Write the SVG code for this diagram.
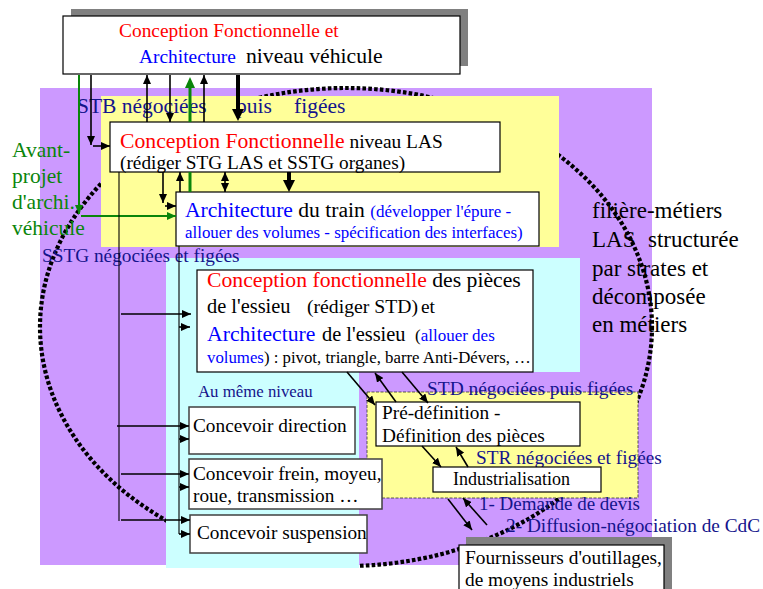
<svg xmlns="http://www.w3.org/2000/svg" width="763" height="589" viewBox="0 0 763 589">
<defs>
<style>
text{font-family:"Liberation Serif","Times New Roman",serif;fill:#000}
.r{fill:#FF0000}.b{fill:#0000FF}.n{fill:#14148C}.g{fill:#0A850A}
.box{fill:#fff;stroke:#000;stroke-width:1.2}
.cbox{fill:#fff;stroke:#404040;stroke-width:1.5}
.sh{fill:#808080}
.c{stroke:#000;stroke-width:1.1;fill:none}
.ca{stroke:#000;stroke-width:1.6;fill:none;marker-end:url(#ah)}
</style>
<marker id="ah" markerUnits="userSpaceOnUse" viewBox="0 0 9 8" markerWidth="9" markerHeight="8" refX="9" refY="4" orient="auto-start-reverse"><path d="M0,0L9,4L0,8z" fill="#000"/></marker>
<marker id="ahB" markerUnits="userSpaceOnUse" viewBox="0 0 12 12" markerWidth="12" markerHeight="12" refX="2" refY="6" orient="auto"><path d="M0,0L12,6L0,12z" fill="#000"/></marker>
<marker id="ahG" markerUnits="userSpaceOnUse" viewBox="0 0 11 10" markerWidth="11" markerHeight="10" refX="2" refY="5" orient="auto"><path d="M0,0L11,5L0,10z" fill="#0A850A"/></marker>
<marker id="ahGs" markerUnits="userSpaceOnUse" viewBox="0 0 9 8" markerWidth="9" markerHeight="8" refX="9" refY="4" orient="auto"><path d="M0,0L9,4L0,8z" fill="#0A850A"/></marker>
</defs>

<g id="backgrounds">
<rect x="40" y="88" width="612" height="477" fill="#CC99FF"/>
<ellipse cx="346" cy="327" rx="306" ry="239" fill="none" stroke="#000" stroke-width="4.2" stroke-dasharray="3.6 2.2"/>
<rect x="101" y="96" width="458" height="151" fill="#FFFF99"/>
<path d="M166,258H580V372H359V568H166Z" fill="#CCFFFF"/>
<rect x="367" y="392" width="271" height="106" fill="#FFFF99" stroke="#333" stroke-width="0.8" stroke-dasharray="3 1.5"/>
</g>

<g id="labels">
<text font-size="23"><tspan x="592" y="218">filière-métiers</tspan><tspan x="592" y="247">LAS</tspan><tspan x="648" y="247">structurée</tspan><tspan x="592" y="276">par strates et</tspan><tspan x="592" y="304">décomposée</tspan><tspan x="592" y="332">en métiers</tspan></text>
<text class="g" font-size="21.5"><tspan x="12" y="157">Avant-</tspan><tspan x="12" y="183">projet</tspan><tspan x="12" y="209">d'archi.</tspan><tspan x="12" y="235">véhicule</tspan></text>
<text class="n" font-size="21.5" y="113"><tspan x="77">STB négociées</tspan><tspan x="236">puis</tspan><tspan x="294">figées</tspan></text>
<text class="n" font-size="19.3" x="42" y="262">SSTG négociées et figées</text>
<text class="n" font-size="16.8" x="198" y="397">Au même niveau</text>
<text class="n" font-size="19.4" x="427" y="395">STD négociées puis figées</text>
<text class="n" font-size="19.3" x="476" y="464">STR négociées et figées</text>
<text class="n" font-size="19" x="479" y="510">1- Demande de devis</text>
<text class="n" font-size="19.3" x="506" y="532">2- Diffusion-négociation de CdC</text>
</g>

<g id="n-vehicule">
<rect class="sh" x="71" y="9" width="397" height="57"/>
<rect class="box" x="63" y="16" width="397" height="58"/>
<text x="119" y="37" font-size="19.4" class="r">Conception Fonctionnelle et</text>
<text y="63"><tspan x="139" font-size="19.4" class="b">Architecture</tspan><tspan x="246" font-size="21.7">niveau véhicule</tspan></text>
</g>

<g id="n-cf-las">
<rect class="box" x="110" y="122" width="390" height="50"/>
<text y="148"><tspan x="120" font-size="21.7" class="r">Conception Fonctionnelle</tspan><tspan font-size="19.4"> niveau LAS</tspan></text>
<text x="120" y="169" font-size="19.3">(rédiger STG LAS et SSTG organes)</text>
</g>

<g id="n-arch-train">
<rect class="box" x="176" y="192" width="363" height="54"/>
<text y="217"><tspan x="185" font-size="21.6" class="b">Architecture</tspan><tspan font-size="21.6"> du train </tspan><tspan font-size="17" class="b">(développer l'épure -</tspan></text>
<text x="185" y="238" font-size="16.9" class="b">allouer des volumes - spécification des interfaces)</text>
</g>

<g id="n-cf-essieu">
<rect class="box" x="197" y="270" width="336" height="102" stroke-width="1.5"/>
<text y="287"><tspan x="207" font-size="21.7" class="r">Conception fonctionnelle</tspan><tspan font-size="21.7"> des pièces</tspan></text>
<text y="313"><tspan x="207" font-size="20.4">de l'essieu</tspan><tspan x="307" font-size="19.7">(rédiger STD)</tspan><tspan x="421" font-size="19.4">et</tspan></text>
<text y="341"><tspan x="207" font-size="21.7" class="b">Architecture</tspan><tspan x="322" font-size="20.4">de l'essieu</tspan><tspan x="415" font-size="17">(</tspan><tspan font-size="17" class="b">allouer des</tspan></text>
<text y="363"><tspan x="207" font-size="16.8" class="b">volumes</tspan><tspan font-size="16.8">) : pivot, triangle, barre Anti-Dévers, …</tspan></text>
</g>

<g id="n-direction">
<rect class="cbox" x="189" y="407" width="166" height="47"/>
<text x="193" y="432" font-size="19.3">Concevoir direction</text>
</g>

<g id="n-frein">
<rect class="cbox" x="189" y="459" width="193" height="50"/>
<text font-size="19.3"><tspan x="193" y="480">Concevoir frein, moyeu,</tspan><tspan x="193" y="502">roue, transmission …</tspan></text>
</g>

<g id="n-suspension">
<rect class="cbox" x="190" y="515" width="177" height="38"/>
<text x="197" y="539" font-size="19.3">Concevoir suspension</text>
</g>

<g id="n-predef">
<rect class="box" x="376" y="402" width="204" height="44"/>
<text font-size="19.3"><tspan x="382" y="419">Pré-définition -</tspan><tspan x="382" y="442">Définition des pièces</tspan></text>
</g>

<g id="n-indus">
<rect class="box" x="433" y="467" width="168" height="25"/>
<text x="453" y="485" font-size="18">Industrialisation</text>
</g>

<g id="n-fournisseurs">
<rect class="sh" x="466" y="537" width="206" height="60"/>
<rect class="box" x="459" y="545" width="205" height="55"/>
<text font-size="19.35"><tspan x="465" y="564">Fournisseurs d'outillages,</tspan><tspan x="465" y="586">de moyens industriels</tspan></text>
</g>

<g id="connectors">
<line x1="79" y1="75" x2="79" y2="214" stroke="#0A850A" stroke-width="2" marker-end="url(#ahGs)"/>
<line x1="81" y1="216" x2="176" y2="216" stroke="#0A850A" stroke-width="2" marker-end="url(#ahGs)"/>
<line x1="190" y1="192" x2="190" y2="172" stroke="#0A850A" stroke-width="3"/>
<line x1="190" y1="122" x2="190" y2="86" stroke="#0A850A" stroke-width="3" marker-end="url(#ahG)"/>
<line class="ca" x1="91" y1="75" x2="91" y2="145"/>
<line class="ca" x1="93" y1="146" x2="110" y2="146"/>
<line class="ca" x1="147" y1="122" x2="147" y2="75"/>
<line class="ca" x1="170" y1="75" x2="170" y2="122"/>
<line class="ca" x1="204" y1="122" x2="204" y2="75"/>
<line x1="238" y1="75" x2="238" y2="111" stroke="#000" stroke-width="4" marker-end="url(#ahB)"/>
<line class="ca" x1="163" y1="172" x2="163" y2="203"/>
<line class="ca" x1="165" y1="206" x2="176" y2="206"/>
<line class="ca" x1="180" y1="192" x2="180" y2="172"/>
<line class="ca" x1="225" y1="172" x2="225" y2="192" marker-start="url(#ah)"/>
<line x1="289" y1="172" x2="289" y2="182" stroke="#000" stroke-width="4" marker-end="url(#ahB)"/>
<line class="c" x1="119" y1="172" x2="119" y2="521"/>
<line class="ca" x1="121" y1="314" x2="191" y2="314"/>
<line class="ca" x1="117" y1="426" x2="189" y2="426"/>
<line class="ca" x1="121" y1="474" x2="189" y2="474"/>
<line class="ca" x1="121" y1="520" x2="190" y2="520"/>
<line class="c" x1="179" y1="246" x2="179" y2="534"/>
<line class="ca" x1="179" y1="327" x2="190" y2="327"/>
<line class="ca" x1="179" y1="439" x2="189" y2="439"/>
<line class="ca" x1="179" y1="487" x2="189" y2="487"/>
<line class="ca" x1="179" y1="534" x2="190" y2="534"/>
<line class="ca" x1="347" y1="372" x2="375" y2="405"/>
<line class="ca" x1="396" y1="402" x2="375" y2="373"/>
<line class="ca" x1="402" y1="372" x2="428" y2="403"/>
<line class="ca" x1="422" y1="446" x2="441" y2="467"/>
<line class="ca" x1="468" y1="467" x2="456" y2="447"/>
<line class="ca" x1="448" y1="499" x2="472" y2="530"/>
<line class="ca" x1="487" y1="525" x2="463" y2="498"/>
</g>
</svg>
